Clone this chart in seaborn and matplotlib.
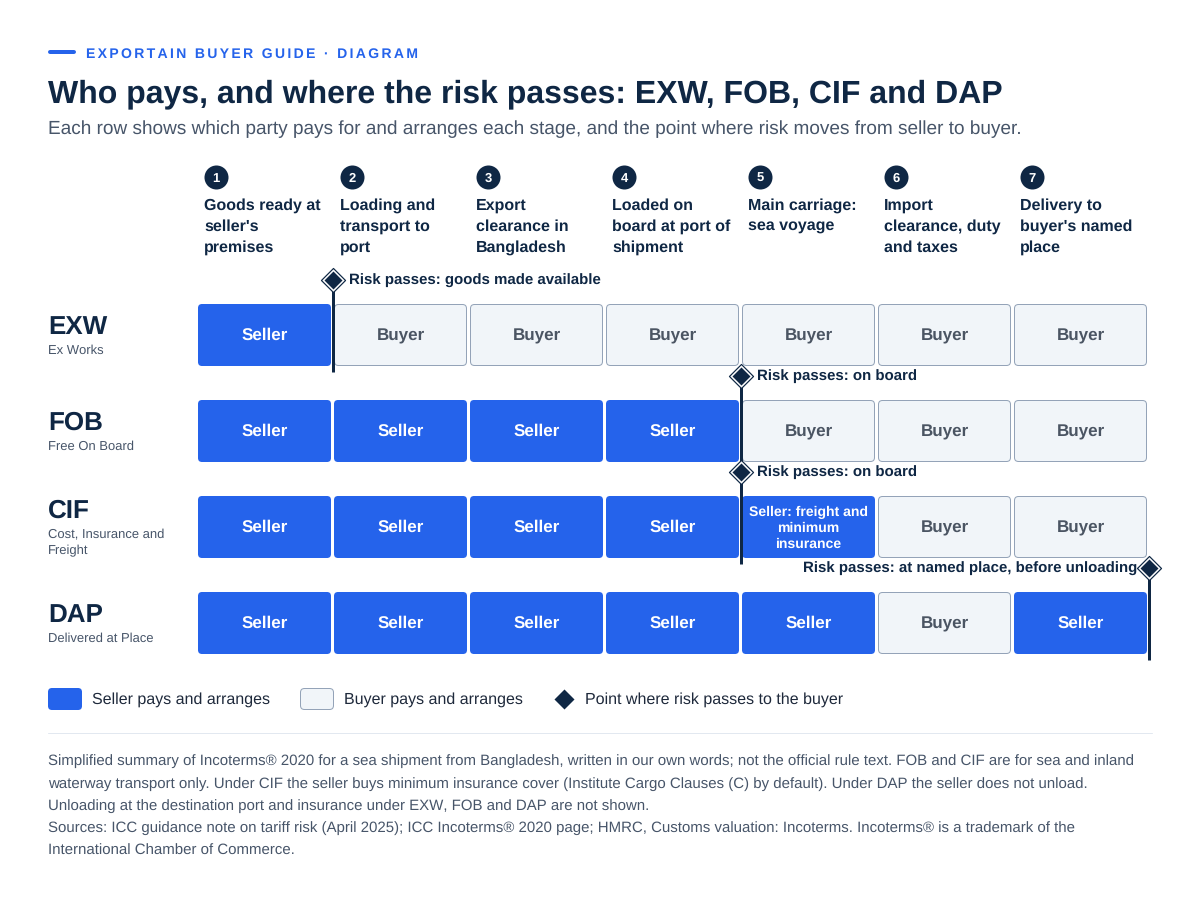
import pandas as pd
import seaborn as sns
import matplotlib.pyplot as plt
from matplotlib.patches import FancyBboxPatch

# Colours
BLUE = '#2563eb'
NAVY = '#0f2744'
SLATE = '#475569'
BUYER_FILL = '#f1f5f9'
BUYER_EDGE = '#94a3b8'
BUYER_TEXT = '#4b5563'

# Chart content
kicker = 'EXPORTAIN BUYER GUIDE · DIAGRAM'
title = 'Who pays, and where the risk passes: EXW, FOB, CIF and DAP'
subtitle = 'Each row shows which party pays for and arranges each stage, and the point where risk moves from seller to buyer.'
steps = [
    ['Goods ready at', "seller's", 'premises'],
    ['Loading and', 'transport to', 'port'],
    ['Export', 'clearance in', 'Bangladesh'],
    ['Loaded on', 'board at port of', 'shipment'],
    ['Main carriage:', 'sea voyage'],
    ['Import', 'clearance, duty', 'and taxes'],
    ['Delivery to', "buyer's named", 'place'],
]
terms = ['EXW', 'FOB', 'CIF', 'DAP']
term_names = [['Ex Works'], ['Free On Board'], ['Cost, Insurance and', 'Freight'], ['Delivered at Place']]
exw_payers = ['Seller', 'Buyer', 'Buyer', 'Buyer', 'Buyer', 'Buyer', 'Buyer']
fob_payers = ['Seller', 'Seller', 'Seller', 'Seller', 'Buyer', 'Buyer', 'Buyer']
cif_payers = ['Seller', 'Seller', 'Seller', 'Seller', 'Seller*', 'Buyer', 'Buyer']
dap_payers = ['Seller', 'Seller', 'Seller', 'Seller', 'Seller', 'Buyer', 'Seller']
payers = [exw_payers, fob_payers, cif_payers, dap_payers]
cif_note = ['Seller: freight and', 'minimum', 'insurance']
# risk passes after this many stages
risk_after = [1, 4, 4, 7]
risk_labels = ['Risk passes: goods made available', 'Risk passes: on board',
               'Risk passes: on board', 'Risk passes: at named place, before unloading']
legend_labels = ['Seller pays and arranges', 'Buyer pays and arranges', 'Point where risk passes to the buyer']
footnote = [
    'Simplified summary of Incoterms® 2020 for a sea shipment from Bangladesh, written in our own words; not the official rule text. FOB and CIF are for sea and inland',
    'waterway transport only. Under CIF the seller buys minimum insurance cover (Institute Cargo Clauses (C) by default). Under DAP the seller does not unload.',
    'Unloading at the destination port and insurance under EXW, FOB and DAP are not shown.',
    'Sources: ICC guidance note on tariff risk (April 2025); ICC Incoterms® 2020 page; HMRC, Customs valuation: Incoterms. Incoterms® is a trademark of the',
    'International Chamber of Commerce.',
]

# Layout in pixels
GRID_X, GRID_Y = 198, 304
STEP_X, STEP_Y = 136, 96
CELL_W, CELL_H = 133, 62


def px(size):
    return size * 0.72


sns.set_theme(style='white')
plt.rcParams['font.family'] = ['Liberation Sans', 'DejaVu Sans']
plt.rcParams['text.hinting'] = 'no_hinting'
plt.rcParams['text.hinting_factor'] = 1

fig = plt.figure(figsize=(12, 9), dpi=100)
ax = fig.add_axes([0, 0, 1, 1])


def label(x, y, s, size, color=NAVY, weight='normal', ha='left'):
    ax.text(x, y, s, fontsize=px(size), color=color, fontweight=weight, ha=ha, va='baseline', zorder=7)


def box(x, y, w, h, fill, edge=None, radius=4):
    ax.add_patch(FancyBboxPatch((x + radius, y + radius), w - 2 * radius, h - 2 * radius,
                                boxstyle=f'round,pad={radius}', facecolor=fill,
                                edgecolor=edge if edge else 'none', linewidth=px(1) if edge else 0, zorder=2))


# Header
ax.plot([50, 74], [52, 52], color=BLUE, lw=px(4), solid_capstyle='round')
label(86, 58, '\u2006'.join(kicker), 13.7, BLUE, 'bold')
label(48, 102.4, title, 32, NAVY, 'bold')
label(48, 134, subtitle, 19, SLATE)

# Stage headings
step_df = pd.DataFrame({'x': [GRID_X + 18 + i * STEP_X for i in range(len(steps))], 'y': 177})
sns.scatterplot(data=step_df, x='x', y='y', ax=ax, marker='o', s=299, color=NAVY, linewidth=0, legend=False, zorder=3)
for i, lines in enumerate(steps):
    x = GRID_X + 6 + i * STEP_X
    label(x + 12, 181.5, str(i + 1), 13, 'white', 'bold', ha='center')
    for j, line in enumerate(lines):
        label(x, 210 + j * 21, line, 16, NAVY, 'bold')

# Rows of cells
for r, term in enumerate(terms):
    y = GRID_Y + r * STEP_Y
    names = term_names[r]
    two_lines = len(names) > 1
    label(48, y + (21.6 if two_lines else 30), term, 26, NAVY, 'bold')
    for j, name in enumerate(names):
        label(48, y + (42 if two_lines else 50) + j * 16, name, 13, SLATE)
    for c, who in enumerate(payers[r]):
        x = GRID_X + c * STEP_X
        cx = x + CELL_W / 2
        if who == 'Buyer':
            box(x + 0.5, y + 0.5, CELL_W - 1, CELL_H - 1, BUYER_FILL, BUYER_EDGE)
            label(cx, y + 36, who, 17, BUYER_TEXT, 'bold', ha='center')
        else:
            box(x, y, CELL_W, CELL_H, BLUE)
            if who == 'Seller*':
                for j, line in enumerate(cif_note):
                    label(cx, y + 20 + j * 16, line, 14, 'white', 'bold', ha='center')
            else:
                label(cx, y + 36, who, 17, 'white', 'bold', ha='center')

# Risk markers
risk_df = pd.DataFrame({'x': [GRID_X + n * STEP_X - 1 for n in risk_after],
                        'y': [GRID_Y - 24 + r * STEP_Y for r in range(len(terms))]})
for _, row in risk_df.iterrows():
    ax.plot([row.x, row.x], [row.y, row.y + 92], color=NAVY, lw=px(3), solid_capstyle='butt', zorder=4)
sns.scatterplot(data=risk_df, x='x', y='y', ax=ax, marker='D', s=150, color='white', edgecolor=NAVY,
                linewidth=px(1.2), legend=False, zorder=5)
sns.scatterplot(data=risk_df, x='x', y='y', ax=ax, marker='D', s=84, color=NAVY, linewidth=0, legend=False, zorder=6)
for r, text in enumerate(risk_labels):
    if risk_after[r] == len(steps):
        label(risk_df.x[r] - 12, risk_df.y[r] + 4.5, text, 15, NAVY, 'bold', ha='right')
    elif 'goods' in text:
        label(risk_df.x[r] + 16, risk_df.y[r] + 4.5, text, 15, NAVY, 'bold')
    else:
        label(risk_df.x[r] + 16, risk_df.y[r] + 4, text, 15, NAVY, 'bold')

# Legend
box(48, 688, 34, 22, BLUE)
label(92, 704, legend_labels[0], 16, '#1e293b')
box(300.5, 688.5, 33, 21, BUYER_FILL, BUYER_EDGE)
label(344, 704, legend_labels[1], 16, '#1e293b')
sns.scatterplot(x=[564], y=[699], ax=ax, marker='D', s=104, color=NAVY, linewidth=0, legend=False, zorder=3)
label(585, 704, legend_labels[2], 16, '#1e293b')

# Footnote
ax.plot([48, 1152], [733, 733], color='#e2e8f0', lw=px(1))
for i, line in enumerate(footnote):
    label(48, 765 + i * 22.4, line, 15, SLATE)

ax.set_xlim(0, 1200)
ax.set_ylim(900, 0)
ax.axis('off')
fig.savefig('out.png', dpi=100, facecolor='white')
